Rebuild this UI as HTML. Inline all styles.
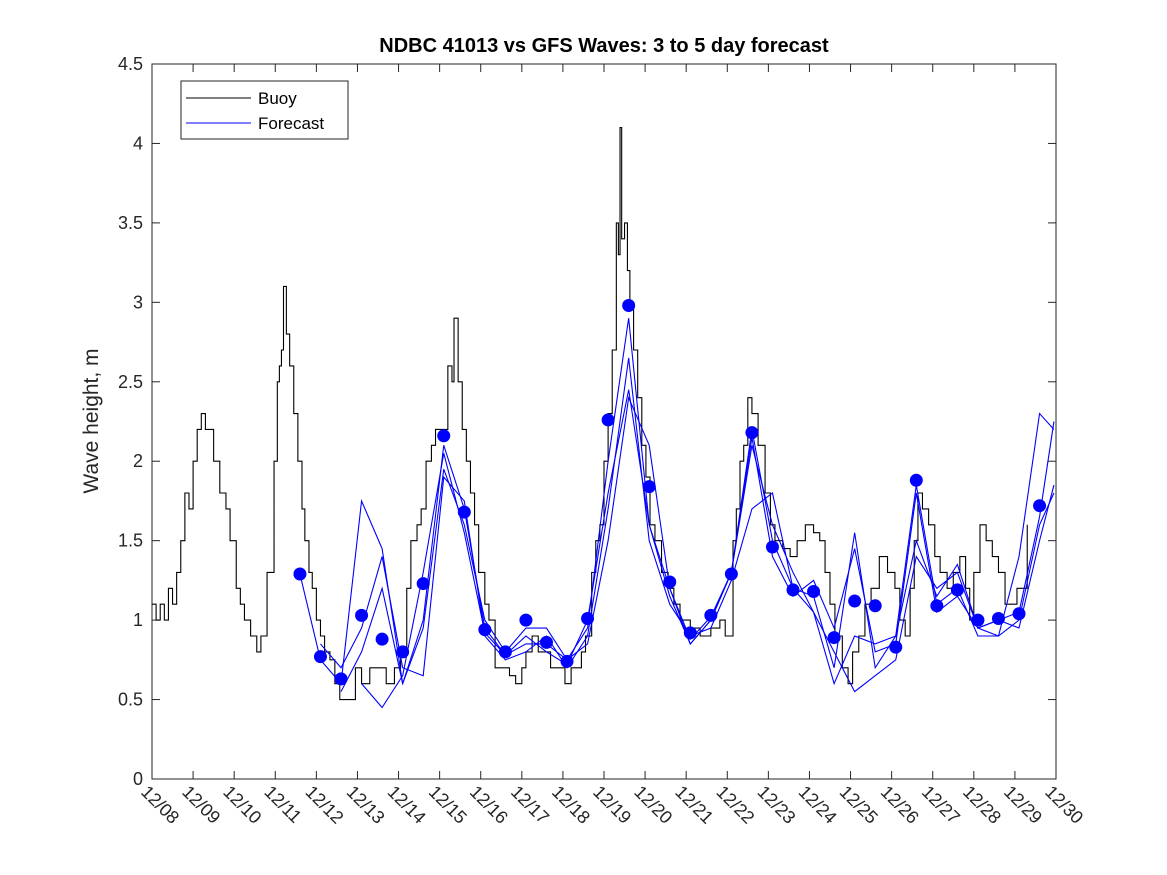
<!DOCTYPE html>
<html><head><meta charset="utf-8"><style>
body{margin:0;background:#fff;}
svg{display:block;font-family:"Liberation Sans","DejaVu Sans",sans-serif;}
</style></head><body>
<svg id="chart" width="1167" height="875" xmlns="http://www.w3.org/2000/svg">
<rect width="1167" height="875" fill="#fff"/>
<text x="604" y="52" text-anchor="middle" font-size="20" font-weight="bold" fill="#000">NDBC 41013 vs GFS Waves: 3 to 5 day forecast</text>
<text transform="translate(98,421) rotate(-90)" text-anchor="middle" font-size="21" fill="#262626">Wave height, m</text>
<g id="plot"></g>
</svg>
<script>
const xTickLabels=["12/08","12/09","12/10","12/11","12/12","12/13","12/14","12/15","12/16","12/17","12/18","12/19","12/20","12/21","12/22","12/23","12/24","12/25","12/26","12/27","12/28","12/29","12/30"];
const yTicks=[0,0.5,1,1.5,2,2.5,3,3.5,4,4.5];
const buoyDays=[0,0.1,0.2,0.3,0.4,0.5,0.6,0.7,0.8,0.9,1.0,1.1,1.2,1.3,1.4,1.5,1.65,1.8,1.9,2.05,2.15,2.25,2.4,2.55,2.65,2.8,2.97,3.05,3.1,3.15,3.2,3.27,3.35,3.45,3.55,3.65,3.72,3.82,3.9,4.0,4.1,4.2,4.33,4.45,4.57,4.7,4.82,4.95,5.1,5.3,5.5,5.7,5.9,6.05,6.2,6.3,6.45,6.55,6.67,6.8,6.9,7.05,7.2,7.3,7.35,7.45,7.55,7.65,7.75,7.85,7.95,8.1,8.2,8.35,8.5,8.7,8.85,9.0,9.1,9.25,9.4,9.55,9.7,9.85,10.05,10.2,10.3,10.45,10.55,10.7,10.8,10.9,11.0,11.1,11.2,11.3,11.35,11.39,11.43,11.5,11.57,11.63,11.72,11.82,11.92,12.02,12.12,12.24,12.4,12.56,12.7,12.85,13.1,13.34,13.6,13.82,13.95,14.14,14.22,14.31,14.4,14.5,14.6,14.75,14.92,15.05,15.16,15.35,15.53,15.7,15.9,16.1,16.25,16.38,16.5,16.62,16.8,16.94,17.05,17.2,17.35,17.5,17.7,17.9,18.08,18.2,18.33,18.45,18.55,18.64,18.75,18.9,19.05,19.18,19.35,19.5,19.66,19.8,19.9,20.0,20.15,20.3,20.45,20.6,20.76,20.9,21.05,21.2,21.3];
const buoyVals=[1.1,1.0,1.1,1.0,1.2,1.1,1.3,1.5,1.8,1.7,2.0,2.2,2.3,2.2,2.2,2.0,1.8,1.7,1.5,1.2,1.1,1.0,0.9,0.8,0.9,1.3,2.0,2.5,2.6,2.7,3.1,2.8,2.6,2.3,2.0,1.7,1.5,1.3,1.2,1.0,0.9,0.8,0.75,0.6,0.5,0.5,0.5,0.7,0.6,0.7,0.7,0.6,0.7,0.8,1.2,1.5,1.6,1.7,2.0,2.1,2.2,2.2,2.6,2.5,2.9,2.5,2.2,2.0,1.8,1.6,1.3,1.1,1.0,0.7,0.7,0.65,0.6,0.7,0.8,0.9,0.8,0.8,0.7,0.7,0.6,0.7,0.7,0.8,0.9,1.3,1.5,1.6,2.0,2.3,2.7,3.5,3.3,4.1,3.4,3.5,3.2,3.0,2.7,2.4,2.1,1.9,1.6,1.5,1.3,1.2,1.1,1.0,0.95,0.9,0.95,1.0,0.9,1.5,1.7,2.0,2.1,2.4,2.3,2.1,1.8,1.6,1.5,1.45,1.4,1.5,1.6,1.55,1.5,1.3,1.1,0.9,0.7,0.6,0.8,0.9,1.1,1.2,1.4,1.3,1.2,1.0,0.9,1.2,1.5,1.8,1.7,1.6,1.4,1.3,1.2,1.3,1.4,1.2,1.0,1.3,1.6,1.5,1.4,1.3,1.1,1.1,1.2,1.2,1.6];
const fcDays=[3.6,4.1,4.6,5.1,5.6,6.1,6.6,7.1,7.6,8.1,8.6,9.1,9.6,10.1,10.6,11.1,11.6,12.1,12.6,13.1,13.6,14.1,14.6,15.1,15.6,16.1,16.6,17.1,17.6,18.1,18.6,19.1,19.6,20.1,20.6,21.1,21.6,21.95];
const fcDots=[1.29,0.77,0.63,1.03,0.88,0.80,1.23,2.16,1.68,0.94,0.80,1.00,0.86,0.74,1.01,2.26,2.98,1.84,1.24,0.92,1.03,1.29,2.18,1.46,1.19,1.18,0.89,1.12,1.09,0.83,1.88,1.09,1.19,1.00,1.01,1.04,1.72,null];
const fcA=[1.29,0.75,0.60,1.75,1.45,0.60,1.00,2.10,1.70,0.95,0.78,0.85,0.85,0.75,0.95,2.00,2.90,1.60,1.15,0.85,1.00,1.30,2.20,1.50,1.20,1.15,0.70,1.55,0.70,0.90,1.85,1.10,1.20,0.90,0.90,1.40,2.30,2.20];
const fcB=[null,0.85,0.70,0.95,1.40,0.70,0.65,1.90,1.75,0.90,0.75,0.80,0.90,0.70,0.90,1.70,2.65,1.50,1.10,0.90,0.95,1.25,1.70,1.80,1.20,1.05,0.60,0.90,0.85,0.90,1.50,1.15,1.35,0.95,0.90,1.00,1.60,1.80];
const fcC=[null,null,0.55,0.80,1.20,0.60,0.95,1.95,1.60,1.00,0.80,0.95,0.95,0.75,0.85,1.50,2.40,2.10,1.20,0.85,1.00,1.30,2.10,1.60,1.30,1.05,0.80,0.55,0.65,0.75,1.40,1.20,1.30,0.95,1.00,0.95,1.50,1.85];
const fcD=[null,null,null,0.60,0.45,0.65,1.30,2.05,1.55,0.92,0.78,0.90,0.80,0.72,1.00,1.80,2.45,1.60,1.20,0.88,1.02,1.30,2.15,1.40,1.15,1.25,0.95,1.45,0.80,0.85,1.80,1.05,1.15,0.95,1.00,1.05,1.65,2.25];

const L=152,R=1056,T=64,B=779;
const xs=d=>L+d*(R-L)/22;
const ys=v=>B-v*(B-T)/4.5;
const NS="http://www.w3.org/2000/svg";
const g=document.getElementById('plot');
function mk(tag,attrs,parent){const e=document.createElementNS(NS,tag);for(const k in attrs)e.setAttribute(k,attrs[k]);(parent||g).appendChild(e);return e;}

let frame=mk('rect',{x:L,y:T,width:R-L,height:B-T,fill:'none',stroke:'#262626','stroke-width':1});



yTicks.forEach(v=>{
  const y=ys(v);
  mk('line',{x1:L,x2:L+8,y1:y,y2:y,stroke:'#262626'});
  mk('line',{x1:R,x2:R-8,y1:y,y2:y,stroke:'#262626'});
  const t=mk('text',{x:L-9,y:y+6,'text-anchor':'end','font-size':18,fill:'#262626'});
  t.textContent=String(v);
  
  
});
xTickLabels.forEach((lab,i)=>{
  const x=xs(i);
  mk('line',{x1:x,x2:x,y1:B,y2:B-8,stroke:'#262626'});
  mk('line',{x1:x,x2:x,y1:T,y2:T+8,stroke:'#262626'});
  const t=mk('text',{x:0,y:0,'font-size':18,fill:'#262626',transform:`translate(${x-12},${B+14}) rotate(45)`});
  t.textContent=lab;
  
  
});

// buoy step line
let d='';
buoyDays.forEach((dd,i)=>{
  const x=xs(dd),y=ys(buoyVals[i]);
  if(i===0)d+=`M${x},${y}`;else d+=`H${x}V${y}`;
});
const bl=mk('path',{d:d,fill:'none',stroke:'#000','stroke-width':1.1});



[fcA,fcB,fcC,fcD].forEach((s,k)=>{
  let p='',started=false;
  s.forEach((v,i)=>{if(v==null)return;p+=(started?'L':'M')+xs(fcDays[i])+','+ys(v);started=true;});
  const e=mk('path',{d:p,fill:'none',stroke:'#0000ff','stroke-width':1.1});
  
  
});
fcDots.forEach((v,i)=>{
  if(v==null)return;
  const c=mk('circle',{cx:xs(fcDays[i]),cy:ys(v),r:6.5,fill:'#0000ff'});
  
  
});

// legend
const lg=mk('g',{});


mk('rect',{x:181,y:81,width:167,height:58,fill:'#fff',stroke:'#262626'},lg);
mk('line',{x1:186,x2:251,y1:98,y2:98,stroke:'#000'},lg);
mk('line',{x1:186,x2:251,y1:123,y2:123,stroke:'#0000ff'},lg);
const t1=mk('text',{x:258,y:104,'font-size':17,fill:'#000'},lg);t1.textContent='Buoy';


const t2=mk('text',{x:258,y:129,'font-size':17,fill:'#000'},lg);t2.textContent='Forecast';


</script>
</body></html>
